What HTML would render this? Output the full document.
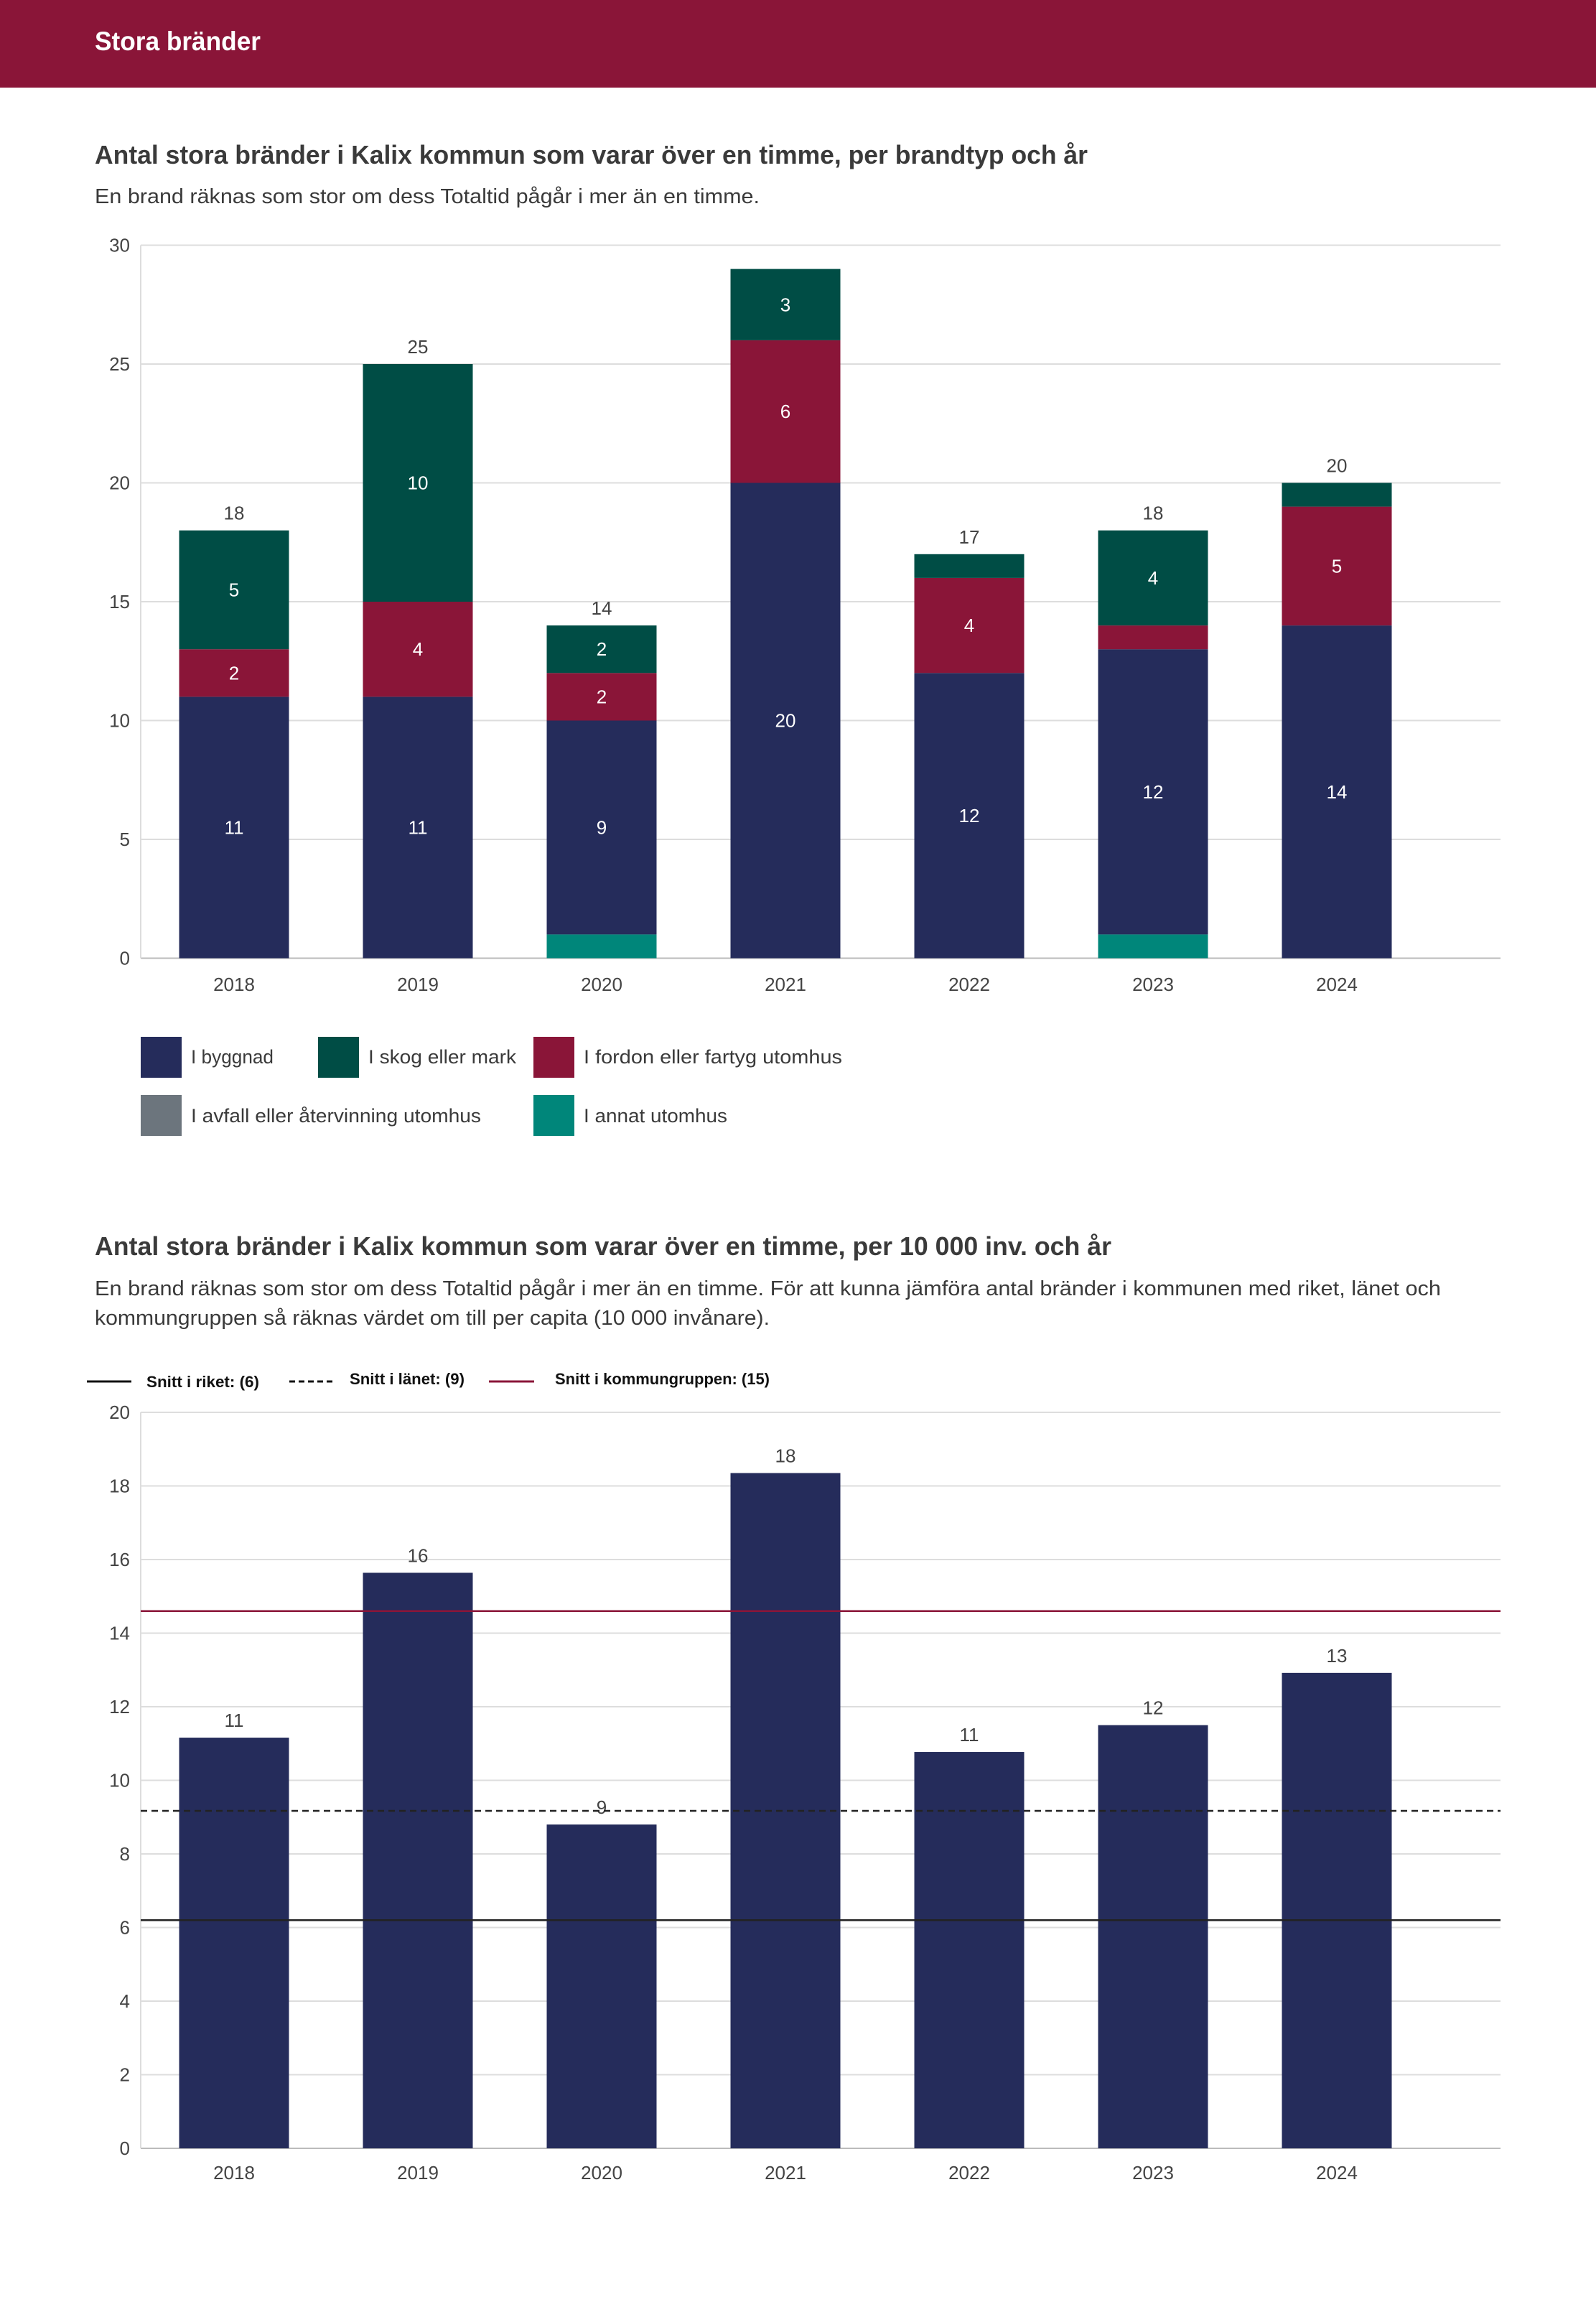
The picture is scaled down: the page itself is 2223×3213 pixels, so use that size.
<!DOCTYPE html>
<html><head><meta charset="utf-8"><style>
html,body{margin:0;padding:0;background:#fff}
svg{display:block}
text{font-family:"Liberation Sans",sans-serif}
</style></head><body>
<svg id="s" xmlns="http://www.w3.org/2000/svg" width="2223" height="3213" viewBox="0 0 2223 3213">
<rect x="0" y="0" width="2223" height="122" fill="#8A1538"/>
<text x="132" y="70" font-size="37" font-weight="bold" fill="#fff" textLength="231" lengthAdjust="spacingAndGlyphs">Stora bränder</text>

<text x="132" y="228" font-size="36" font-weight="bold" fill="#3a3a3a" textLength="1383" lengthAdjust="spacingAndGlyphs">Antal stora bränder i Kalix kommun som varar över en timme, per brandtyp och år</text>
<text x="132" y="283" font-size="29" fill="#3a3a3a" textLength="926" lengthAdjust="spacingAndGlyphs">En brand räknas som stor om dess Totaltid pågår i mer än en timme.</text>
<g id="c1"></g>
<g>
<g><rect x="196" y="1444" width="57" height="57" fill="#252C5B"/><text x="266" y="1481" font-size="27" fill="#3a3a3a" textLength="115" lengthAdjust="spacingAndGlyphs">I byggnad</text></g>
<g><rect x="443" y="1444" width="57" height="57" fill="#004D45"/><text x="513" y="1481" font-size="27" fill="#3a3a3a" textLength="206" lengthAdjust="spacingAndGlyphs">I skog eller mark</text></g>
<g><rect x="743" y="1444" width="57" height="57" fill="#8A1538"/><text x="813" y="1481" font-size="27" fill="#3a3a3a" textLength="360" lengthAdjust="spacingAndGlyphs">I fordon eller fartyg utomhus</text></g>
<g><rect x="196" y="1525" width="57" height="57" fill="#6C757D"/><text x="266" y="1563" font-size="27" fill="#3a3a3a" textLength="404" lengthAdjust="spacingAndGlyphs">I avfall eller återvinning utomhus</text></g>
<g><rect x="743" y="1525" width="57" height="57" fill="#00867A"/><text x="813" y="1563" font-size="27" fill="#3a3a3a" textLength="200" lengthAdjust="spacingAndGlyphs">I annat utomhus</text></g>
</g>

<text x="132" y="1748" font-size="36" font-weight="bold" fill="#3a3a3a" textLength="1416" lengthAdjust="spacingAndGlyphs">Antal stora bränder i Kalix kommun som varar över en timme, per 10 000 inv. och år</text>
<text x="132" y="1804" font-size="29" fill="#3a3a3a" textLength="1875" lengthAdjust="spacingAndGlyphs">En brand räknas som stor om dess Totaltid pågår i mer än en timme. För att kunna jämföra antal bränder i kommunen med riket, länet och</text>
<text x="132" y="1845" font-size="29" fill="#3a3a3a" textLength="940" lengthAdjust="spacingAndGlyphs">kommungruppen så räknas värdet om till per capita (10 000 invånare).</text>
<g>
<g><line x1="121" y1="1924" x2="183" y2="1924" stroke="#111" stroke-width="3"/><text x="204" y="1932" font-size="22" font-weight="bold" fill="#111" textLength="157" lengthAdjust="spacingAndGlyphs">Snitt i riket: (6)</text></g>
<g><line x1="403" y1="1924" x2="463" y2="1924" stroke="#111" stroke-width="3" stroke-dasharray="8,5"/><text x="487" y="1928" font-size="22" font-weight="bold" fill="#111" textLength="160" lengthAdjust="spacingAndGlyphs">Snitt i länet: (9)</text></g>
<g><line x1="681" y1="1924" x2="744" y2="1924" stroke="#8A1538" stroke-width="3"/><text x="773" y="1928" font-size="22" font-weight="bold" fill="#111" textLength="299" lengthAdjust="spacingAndGlyphs">Snitt i kommungruppen: (15)</text></g>
</g>
<g id="c2"></g>
</svg>
<script>
const years = ["2018","2019","2020","2021","2022","2023","2024"];
const annat   = [0,0,1,0,0,1,0];
const avfall  = [0,0,0,0,0,0,0];
const byggnad = [11,11,9,20,12,12,14];
const fordon  = [2,4,2,6,4,1,5];
const skog    = [5,10,2,3,1,4,1];
const ticks1 = [0,5,10,15,20,25,30];
const perCapita = [11.16,15.64,8.8,18.35,10.77,11.5,12.92];
const ticks2 = [0,2,4,6,8,10,12,14,16,18,20];
const riket = 6.2, lanet = 9.17, kommungrupp = 14.6;

const NS="http://www.w3.org/2000/svg";
function mk(p,t,a,txt){const e=document.createElementNS(NS,t);for(const k in a)e.setAttribute(k,a[k]);if(txt!==undefined)e.textContent=txt;p.appendChild(e);return e;}
const L=196,R=2090,step=256,bw=153,first=326;
const xc=i=>first+i*step;

// chart 1
const c1=document.getElementById('c1');
const y1=v=>1334.5-v*33.1;
ticks1.forEach(t=>{
  const g=mk(c1,'line',{x1:L,x2:R,y1:y1(t),y2:y1(t),stroke:t===0?'#bbb':'#ddd','stroke-width':2});
  
  
  const tl=mk(c1,'text',{x:181,y:y1(t)+9,'font-size':26,fill:'#444','text-anchor':'end'},t);
  
  
});
mk(c1,'line',{x1:L,x2:L,y1:y1(30),y2:y1(0),stroke:'#ddd','stroke-width':2});
const series=[[annat,'#00867A','annat'],[avfall,'#6C757D','avfall'],[byggnad,'#252C5B','byggnad'],[fordon,'#8A1538','fordon'],[skog,'#004D45','skog']];
years.forEach((yr,i)=>{
  let base=0;
  series.forEach(([arr,col,nm])=>{
    const v=arr[i]; if(!v) return;
    const r=mk(c1,'rect',{x:xc(i)-bw/2,y:y1(base+v),width:bw,height:y1(base)-y1(base+v),fill:col});
    
    
    if(v>1){
      const t=mk(c1,'text',{x:xc(i),y:(y1(base)+y1(base+v))/2+9,'font-size':26,fill:'#fff','text-anchor':'middle'},v);
      
      
    }
    base+=v;
  });
  if(base<=27){
    const t=mk(c1,'text',{x:xc(i),y:y1(base)-15,'font-size':26,fill:'#444','text-anchor':'middle'},base);
    
    
  }
  const xl=mk(c1,'text',{x:xc(i),y:1380,'font-size':26,fill:'#444','text-anchor':'middle'},yr);
  
  
});

// chart 2
const c2=document.getElementById('c2');
const y2=v=>2992-v*51.25;
ticks2.forEach(t=>{
  const g=mk(c2,'line',{x1:L,x2:R,y1:y2(t),y2:y2(t),stroke:t===0?'#bbb':'#ddd','stroke-width':2});
  
  
  const tl=mk(c2,'text',{x:181,y:y2(t)+9,'font-size':26,fill:'#444','text-anchor':'end'},t);
  
  
});
mk(c2,'line',{x1:L,x2:L,y1:y2(20),y2:y2(0),stroke:'#ddd','stroke-width':2});
years.forEach((yr,i)=>{
  const v=perCapita[i];
  const r=mk(c2,'rect',{x:xc(i)-bw/2,y:y2(v),width:bw,height:y2(0)-y2(v),fill:'#252C5B'});
  
  
  const t=mk(c2,'text',{x:xc(i),y:y2(v)-15,'font-size':26,fill:'#444','text-anchor':'middle'},Math.round(v));
  
  
  const xl=mk(c2,'text',{x:xc(i),y:3035,'font-size':26,fill:'#444','text-anchor':'middle'},yr);
  
  
});
const rl=mk(c2,'line',{x1:L,x2:R,y1:y2(riket),y2:y2(riket),stroke:'#222','stroke-width':2.5});


const ll=mk(c2,'line',{x1:L,x2:R,y1:y2(lanet),y2:y2(lanet),stroke:'#222','stroke-width':2.5,'stroke-dasharray':'9,6'});


const kl=mk(c2,'line',{x1:L,x2:R,y1:y2(kommungrupp),y2:y2(kommungrupp),stroke:'#8A1538','stroke-width':2.5});


</script>
</body></html>
